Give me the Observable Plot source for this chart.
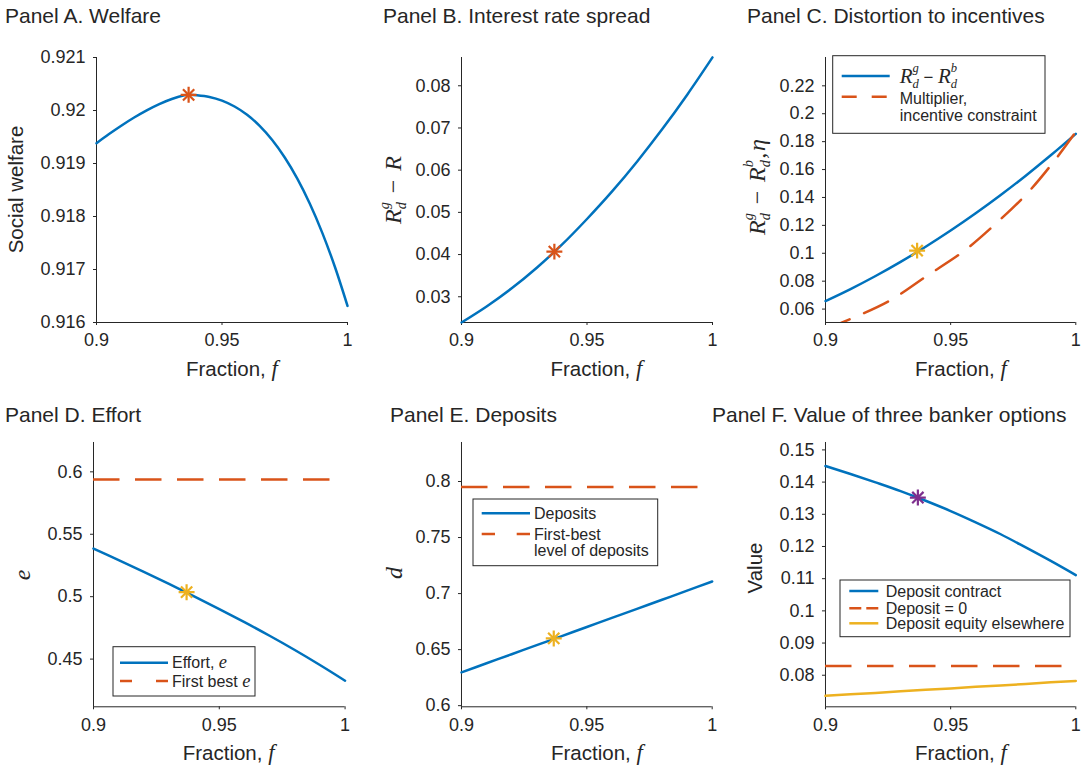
<!DOCTYPE html>
<html><head><meta charset="utf-8">
<script src="https://cdn.jsdelivr.net/npm/d3@7"></script>
<script src="https://cdn.jsdelivr.net/npm/@observablehq/plot@0.6"></script>
<style>
html,body{margin:0;padding:0;background:#fff;}
#root{position:relative;width:1088px;height:768px;overflow:hidden;font-family:"Liberation Sans",Arial,sans-serif;}
#root svg{position:absolute;}
</style></head><body><div id="root"></div>
<script>
// ---------- data ----------
const xTicks = [0.9, 0.95, 1];
const fGrid = [0.90, 0.91, 0.92, 0.93, 0.94, 0.95, 0.96, 0.97, 0.98, 0.99, 1.00];

// Panel A
const fWelfare = [0.900,0.905,0.910,0.915,0.920,0.925,0.930,0.935,0.9367,0.940,0.945,0.950,0.955,0.960,0.965,0.970,0.975,0.980,0.985,0.990,0.995,1.000];
const welfare = [0.919384,0.919556,0.919718,0.919868,0.920004,0.920122,0.920218,0.920286,0.920296,0.920287,0.920255,0.920186,0.920075,0.919919,0.919710,0.919444,0.919114,0.918715,0.918241,0.917687,0.917047,0.916314];
const welfareStar = [0.9367, 0.920296];
const yTicksA = [0.916, 0.917, 0.918, 0.919, 0.92, 0.921];

// Panel B
const spread = [0.02391,0.02771,0.03201,0.03689,0.04234,0.04843,0.05496,0.06207,0.06973,0.07795,0.08672];
const spreadStar = [0.937, 0.0407];
const yTicksB = [0.03, 0.04, 0.05, 0.06, 0.07, 0.08];

// Panel C
const rateGap = [0.06574,0.07435,0.08371,0.09383,0.10469,0.11629,0.12866,0.14177,0.15562,0.17022,0.18558];
const fEta = [0.900,0.9067,0.9253,0.9406,0.9553,0.9679,0.9806,0.9912,1.000];
const eta = [0.0452,0.0504,0.0657,0.0839,0.1016,0.1210,0.1430,0.1657,0.1870];
const rateGapStar = [0.9366, 0.1019];
const yTicksC = [0.06, 0.08, 0.1, 0.12, 0.14, 0.16, 0.18, 0.2, 0.22];

// Panel D
const effort = [0.5385,0.5293,0.5199,0.5102,0.5003,0.4901,0.4796,0.4687,0.4573,0.4453,0.4327];
const firstBestEffort = 0.5938;
const effortStar = [0.937, 0.5036];
const yTicksD = [0.45, 0.5, 0.55, 0.6];

// Panel E
const deposits = [0.6297,0.6378,0.6459,0.6540,0.6621,0.6702,0.6783,0.6864,0.6945,0.7026,0.7108];
const firstBestDeposits = 0.7952;
const depositsStar = [0.9368, 0.6600];
const yTicksE = [0.6, 0.65, 0.7, 0.75, 0.8];

// Panel F
const depositContract = [0.1450,0.1425,0.1399,0.1372,0.1342,0.1310,0.1275,0.1238,0.1197,0.1155,0.1111];
const depositZero = 0.0829;
const equityElsewhere = [0.0736,0.0741,0.0745,0.0750,0.0755,0.0759,0.0764,0.0768,0.0773,0.0778,0.0782];
const contractStar = [0.9369, 0.1352];
const yTicksF = [0.08, 0.09, 0.1, 0.11, 0.12, 0.13, 0.14, 0.15];

// ---------- style ----------
const INK = "#262626";
const BLUE = "#0072BD", RED = "#D95319", YELLOW = "#EDB120", PURPLE = "#7E2F8E";
const SANS = '"Liberation Sans", Arial, Helvetica, sans-serif';
const SERIF = '"Liberation Serif", "Times New Roman", serif';
const LW = 2.5;
const DASH = "26.5,15.5";

const root = document.getElementById("root");
const pts = (xs, ys) => xs.map((x, i) => ({f: x, v: ys[i]}));
const star = (s, color) => [
  Plot.dot([{f: s[0], v: s[1]}], {x: "f", y: "v", symbol: "plus", r: 5.2, stroke: color, strokeWidth: 2.2}),
  Plot.dot([{f: s[0], v: s[1]}], {x: "f", y: "v", symbol: "times", r: 5.2, stroke: color, strokeWidth: 2.2})
];

function panel(p) {
  const ML = 70, MR = 14, MT = 8, MB = 34;
  const chart = Plot.plot({
    width: p.right - p.left + ML + MR,
    height: p.bottom - p.top + MT + MB,
    marginLeft: ML, marginRight: MR, marginTop: MT, marginBottom: MB,
    style: {fontFamily: SANS, fontSize: "18px", color: INK, background: "transparent", overflow: "visible"},
    x: {domain: [0.9, 1], ticks: xTicks, tickFormat: d => String(d), tickSize: 3, tickPadding: 8, label: null},
    y: {domain: p.yDomain, ticks: p.yTicks, tickFormat: d => String(d), tickSize: 3, tickPadding: 8, label: null},
    marks: [
      Plot.ruleX([0.9], {stroke: INK, strokeWidth: 1}),
      Plot.ruleY([p.yDomain[0]], {stroke: INK, strokeWidth: 1}),
      ...p.marks
    ]
  });
  chart.style.left = (p.left - ML) + "px";
  chart.style.top = (p.top - MT) + "px";
  root.appendChild(chart);
}

// Panel A
panel({left: 96, right: 347, top: 57, bottom: 322, yDomain: [0.916, 0.921], yTicks: yTicksA, marks: [
  Plot.line(pts(fWelfare, welfare), {x: "f", y: "v", stroke: BLUE, strokeWidth: LW, curve: "catmull-rom"}),
  ...star(welfareStar, RED)
]});
// Panel B
panel({left: 460.5, right: 711.5, top: 57, bottom: 322, yDomain: [0.0239, 0.0867], yTicks: yTicksB, marks: [
  Plot.line(pts(fGrid, spread), {x: "f", y: "v", stroke: BLUE, strokeWidth: LW, curve: "catmull-rom"}),
  ...star(spreadStar, RED)
]});
// Panel C
panel({left: 825, right: 1075.3, top: 57, bottom: 322, yDomain: [0.0504, 0.2403], yTicks: yTicksC, marks: [
  Plot.line(pts(fGrid, rateGap), {x: "f", y: "v", stroke: BLUE, strokeWidth: LW, curve: "catmull-rom"}),
  Plot.line(pts(fEta, eta), {x: "f", y: "v", stroke: RED, strokeWidth: LW, strokeDasharray: DASH, curve: "catmull-rom", clip: true}),
  ...star(rateGapStar, YELLOW)
]});
// Panel D
panel({left: 92.7, right: 344.3, top: 441.7, bottom: 706, yDomain: [0.4118, 0.6235], yTicks: yTicksD, marks: [
  Plot.ruleY([firstBestEffort], {stroke: RED, strokeWidth: LW, strokeDasharray: DASH}),
  Plot.line(pts(fGrid, effort), {x: "f", y: "v", stroke: BLUE, strokeWidth: LW, curve: "catmull-rom"}),
  ...star(effortStar, YELLOW)
]});
// Panel E
panel({left: 461, right: 711.7, top: 441.7, bottom: 706, yDomain: [0.599, 0.8348], yTicks: yTicksE, marks: [
  Plot.ruleY([firstBestDeposits], {stroke: RED, strokeWidth: LW, strokeDasharray: DASH}),
  Plot.line(pts(fGrid, deposits), {x: "f", y: "v", stroke: BLUE, strokeWidth: LW, curve: "catmull-rom"}),
  ...star(depositsStar, YELLOW)
]});
// Panel F
panel({left: 825, right: 1075.3, top: 441.7, bottom: 706, yDomain: [0.0702, 0.1523], yTicks: yTicksF, marks: [
  Plot.ruleY([depositZero], {stroke: RED, strokeWidth: LW, strokeDasharray: DASH}),
  Plot.line(pts(fGrid, equityElsewhere), {x: "f", y: "v", stroke: YELLOW, strokeWidth: LW}),
  Plot.line(pts(fGrid, depositContract), {x: "f", y: "v", stroke: BLUE, strokeWidth: LW, curve: "catmull-rom"}),
  ...star(contractStar, PURPLE)
]});

// ---------- overlay text: titles, axis labels, legends ----------
const ov = d3.select(root).append("svg")
  .attr("width", 1088).attr("height", 768)
  .style("left", "0px").style("top", "0px").style("pointer-events", "none");

function rich(sel, parts, size) {
  parts.forEach(p => {
    const t = sel.append("tspan").text(p.t);
    t.attr("font-family", p.serif ? SERIF : SANS);
    if (p.it) t.attr("font-style", "italic");
    if (p.fs) t.attr("font-size", (p.fs * size).toFixed(2));
    if (p.dx) t.attr("dx", (p.dx * size).toFixed(2));
    if (p.dy) t.attr("dy", (p.dy * size).toFixed(2));
  });
  return sel;
}
const mathRdiff = (sup) => [
  {t: "R", serif: 1, it: 1},
  {t: "d", serif: 1, it: 1, fs: 0.6, dy: 0.24},
  {t: sup, serif: 1, it: 1, fs: 0.6, dx: -0.3, dy: -0.74}
];
const resetDy = 0.5;

function txt(x, y, parts, size, anchor = "start") {
  const t = ov.append("text").attr("x", x).attr("y", y)
    .attr("font-size", size).attr("fill", INK).attr("text-anchor", anchor)
    .style("white-space", "pre");
  return rich(t, parts, size);
}
function rot(cx, cy, parts, size) {
  const t = ov.append("text").attr("transform", `translate(${cx},${cy}) rotate(-90)`)
    .attr("y", 0.36 * size).attr("font-size", size).attr("fill", INK)
    .attr("text-anchor", "middle").style("white-space", "pre");
  return rich(t, parts, size);
}

// titles
const titles = [
  ["Panel A. Welfare", 5, 23],
  ["Panel B. Interest rate spread", 383, 23],
  ["Panel C. Distortion to incentives", 747, 23],
  ["Panel D. Effort", 5, 421.5],
  ["Panel E. Deposits", 390, 421.5],
  ["Panel F. Value of three banker options", 712, 421.5]
];
titles.forEach(([s, x, y]) => txt(x, y, [{t: s}], 21));

// x-axis labels
const xLab = [{t: "Fraction, "}, {t: "f", serif: 1, it: 1, fs: 1.1}];
[[96, 322], [460.5, 322], [825, 322], [92.7, 706], [461, 706], [825, 706]]
  .forEach(([l, b]) => txt(l + 90, b + 53.5, xLab, 20.5));

// y-axis labels
const minus = {t: " − ", serif: 1, dy: resetDy, dx: 0.12};
rot(16, 189.5, [{t: "Social welfare"}], 20.5);
rot(392, 190, [...mathRdiff("g"), minus, {t: "R", serif: 1, it: 1, dx: 0.12}], 24);
rot(756, 187, [...mathRdiff("g"), minus, {t: "R", serif: 1, it: 1, dx: 0.12}, ...mathRdiff("b").slice(1),
  {t: ",", serif: 1, it: 1, dy: resetDy, dx: 0.05}, {t: "η", serif: 1, it: 1, dx: 0.08}], 24);
rot(21, 575, [{t: "e", serif: 1, it: 1}], 24);
rot(393, 573, [{t: "d", serif: 1, it: 1}], 24);
rot(755, 568, [{t: "Value"}], 20.5);

// legends
function legend(box, rows) {
  ov.append("rect").attr("x", box.x).attr("y", box.y).attr("width", box.w).attr("height", box.h)
    .attr("fill", "#fff").attr("stroke", INK).attr("stroke-width", 1);
  rows.forEach(r => {
    ov.append("line").attr("x1", box.x + r.x1).attr("x2", box.x + r.x2)
      .attr("y1", box.y + r.ly).attr("y2", box.y + r.ly)
      .attr("stroke", r.color).attr("stroke-width", LW).attr("stroke-dasharray", r.dash || null);
    r.lines.forEach(([cy, parts, size]) => txt(box.x + r.tx, box.y + cy + 0.36 * (size || 16), parts, size || 16));
  });
}
legend({x: 832.7, y: 55.7, w: 212.3, h: 77.6}, [
  {ly: 20.3, x1: 9, x2: 57, tx: 67, color: BLUE,
   lines: [[19.5, [...mathRdiff("g"), {t: " − ", dy: resetDy, fs: 0.8}, ...mathRdiff("b")], 21]]},
  {ly: 41, x1: 9, x2: 57, tx: 67, color: RED, dash: "15,15",
   lines: [[42.3, [{t: "Multiplier,"}]], [59.3, [{t: "incentive constraint"}]]]}
]);
legend({x: 113, y: 646.7, w: 142, h: 49.3}, [
  {ly: 16, x1: 7, x2: 55, tx: 59, color: BLUE, lines: [[16, [{t: "Effort, "}, {t: "e", serif: 1, it: 1, fs: 1.15}]]]},
  {ly: 34.3, x1: 7, x2: 55, tx: 59, color: RED, dash: "12,24",
   lines: [[34.3, [{t: "First best "}, {t: "e", serif: 1, it: 1, fs: 1.15}]]]}
]);
legend({x: 473, y: 499, w: 184.7, h: 66.7}, [
  {ly: 14.3, x1: 8.7, x2: 57, tx: 61, color: BLUE, lines: [[14.3, [{t: "Deposits"}]]]},
  {ly: 35, x1: 8.7, x2: 57, tx: 61, color: RED, dash: "13.3,21.7",
   lines: [[35, [{t: "First-best"}]], [51, [{t: "level of deposits"}]]]}
]);
legend({x: 840, y: 580, w: 230, h: 56.7}, [
  {ly: 11, x1: 9.3, x2: 38.3, tx: 45.7, color: BLUE, lines: [[11, [{t: "Deposit contract"}]]]},
  {ly: 28.3, x1: 9.3, x2: 38.3, tx: 45.7, color: RED, dash: "12,5", lines: [[28.3, [{t: "Deposit = 0"}]]]},
  {ly: 43.3, x1: 9.3, x2: 38.3, tx: 45.7, color: YELLOW, lines: [[43.3, [{t: "Deposit equity elsewhere"}]]]}
]);
</script></body></html>
